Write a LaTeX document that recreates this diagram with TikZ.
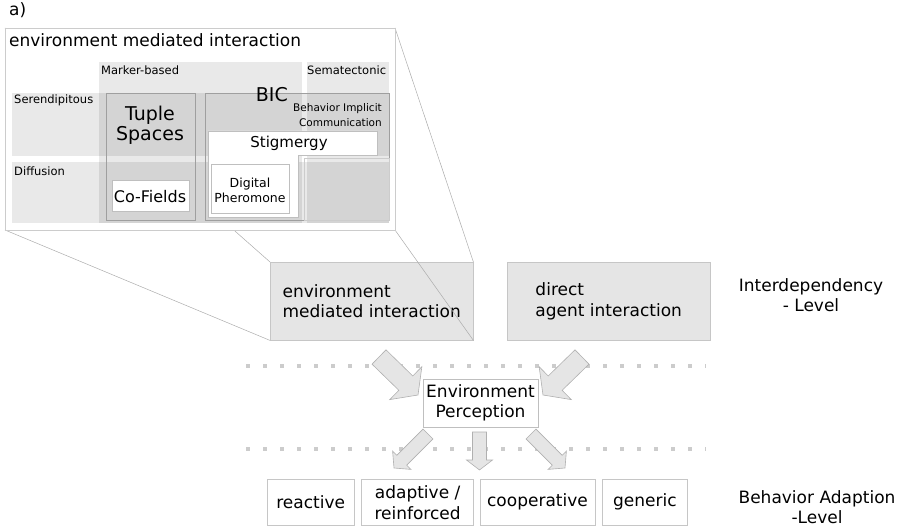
\documentclass[tikz,border=0pt]{standalone}
\usepackage{fontspec}
\setmainfont{DejaVu Sans}
\usetikzlibrary{positioning,calc}

\tikzset{
    region/.style={fill=black, fill opacity=0.085},
    inbox/.style={draw=gray!75, line width=0.8pt},
    whitebox/.style={draw=gray!50, fill=white, line width=0.8pt},
    levelbox/.style={draw=gray!45, fill=gray!20, minimum width=203pt, minimum height=78pt,
        align=left, font=\fontsize{17}{20.5}\selectfont},
    resultbox/.style={draw=gray!45, fill=white, minimum height=46pt, inner sep=3pt,
        align=center, font=\fontsize{17}{21}\selectfont},
    zoomline/.style={draw=gray!65, line width=0.5pt},
    dotline/.style={draw=gray!40, line width=3.5pt, dash pattern=on 3.5pt off 13.5pt},
    blockarrow/.style={draw=gray!62, fill=gray!20, line width=0.6pt},
    lbl/.style={inner sep=0pt},
    smalltext/.style={font=\fontsize{11.5}{14}\selectfont},
    bigtext/.style={font=\fontsize{17}{20.5}\selectfont},
}

% 粗箭头: 起点, 终点, 杆半宽, 头半宽, 头长
\newcommand{\fatarrow}[5]{
    \coordinate (hb) at ($(#2)!#5!(#1)$);
    \draw[blockarrow] ($(#1)!#3!90:(#2)$) -- ($(hb)!#3!90:(#2)$) -- ($(hb)!#4!90:(#2)$)
        -- (#2) -- ($(hb)!#4!-90:(#2)$) -- ($(hb)!#3!-90:(#2)$) -- ($(#1)!#3!-90:(#2)$) -- cycle;
}

\begin{document}
\begin{tikzpicture}[x=1pt, y=-1pt]
        \useasboundingbox (0,0) rectangle (905,529);

        % interdependency level
        \node[levelbox, anchor=north west] (env) at (270,262) {environment\\mediated interaction};
        \node[levelbox, anchor=north west] (direct) at (507,262) {direct\\agent interaction};
        \node[bigtext, align=center] (lvlone) at (811,295) {Interdependency\\- Level};

        % zoom of the left box
        \coordinate (dnw) at (5,28);
        \coordinate (dne) at (395,28);
        \coordinate (dsw) at (5,230);
        \coordinate (dse) at (395,230);
        \draw[zoomline] (dnw) -- (env.north west);
        \draw[zoomline] (dne) -- (env.north east);
        \draw[zoomline] (dsw) -- (env.south west);
        \draw[zoomline] (dse) -- (env.south east);
        \filldraw[draw=gray!40, fill=white, line width=0.8pt] (dnw) rectangle (dse);

        \node[bigtext, lbl, anchor=base west] (part) at (9,16) {a)};
        \node[bigtext, lbl, anchor=base west] (title) at (9,46.5) {environment mediated interaction};

        \fill[region] (99,62) rectangle (302,223);
        \fill[region] (307,62) rectangle (389,223);
        \fill[region] (12,93) rectangle (389,156);
        \fill[region] (12,162) rectangle (389,223);
        \node[smalltext, lbl, anchor=base west] (marker) at (101,75) {Marker-based};
        \node[smalltext, lbl, anchor=base west] (semat) at (307,75) {Sematectonic};
        \node[smalltext, lbl, anchor=base west] (seren) at (14,104) {Serendipitous};
        \node[smalltext, lbl, anchor=base west] (diffus) at (14,176) {Diffusion};

        \draw[inbox] (106,93) rectangle (195,220);
        \draw[inbox] (205,93) rectangle (389,220);
        \draw[inbox, draw=gray!40] (304,158) rectangle (389,220);
        \filldraw[whitebox] (112,180) rectangle (189,211);
        \filldraw[whitebox] (208,131) -- (377,131) -- (377,155) -- (298,155) -- (298,217) -- (208,217) -- cycle;
        \filldraw[whitebox] (211,164) rectangle (289,213);

        \node[lbl, anchor=base, align=center, font=\fontsize{19}{20}\selectfont] (tuple) at (150,141) {Tuple\\Spaces};
        \node[lbl, anchor=base, font=\fontsize{16}{18}\selectfont] (cofields) at (150,203) {Co-Fields};
        \node[lbl, anchor=base east, font=\fontsize{19}{20}\selectfont] (bic) at (288,102) {BIC};
        \node[lbl, anchor=base east, align=right, font=\fontsize{10.5}{15}\selectfont] (bicname) at (382,127) {Behavior Implicit\\Communication};
        \node[lbl, anchor=base, font=\fontsize{15}{18}\selectfont] (stig) at (289,148) {Stigmergy};
        \node[lbl, anchor=base, align=center, font=\fontsize{12.5}{15}\selectfont] (pher) at (250,203) {Digital\\Pheromone};

        % dotted separators
        \coordinate (sepa) at (246,366);
        \coordinate (sepb) at (706,366);
        \coordinate (sepc) at (246,449);
        \coordinate (sepd) at (706,449);
        \draw[dotline] (sepa) -- (sepb);
        \draw[dotline] (sepc) -- (sepd);

        \node[draw=gray!50, fill=white, bigtext, align=center, minimum width=115pt, minimum height=48pt,
            inner sep=2pt] (percep) at (480.5,403) {Environment\\Perception};

        % behavior adaption level
        \node[resultbox, minimum width=87pt, anchor=north west] (reactive) at (267,479) {reactive};
        \node[resultbox, minimum width=112pt, right=7pt of reactive] (adaptive) {adaptive /\\reinforced};
        \node[resultbox, minimum width=115pt, right=6pt of adaptive] (coop) {cooperative};
        \node[resultbox, minimum width=85pt, right=7pt of coop] (generic) {generic};
        \node[bigtext, align=center] (lvltwo) at (817,507) {Behavior Adaption\\-Level};

        % block arrows
        \coordinate (ina) at (379,357);
        \coordinate (inb) at (418,395);
        \coordinate (inc) at (582,357);
        \coordinate (ind) at (543,395);
        \fatarrow{ina}{inb}{10pt}{23pt}{17pt}
        \fatarrow{inc}{ind}{10pt}{23pt}{17pt}
        \coordinate (outa) at (428,434);
        \coordinate (outb) at (394,468);
        \coordinate (outc) at (479.5,432);
        \coordinate (outd) at (479.5,470);
        \coordinate (oute) at (531,434);
        \coordinate (outf) at (565,468);
        \fatarrow{outa}{outb}{7pt}{13pt}{11pt}
        \fatarrow{outc}{outd}{7pt}{13pt}{10pt}
        \fatarrow{oute}{outf}{7pt}{13pt}{11pt}
    \end{tikzpicture}
\end{document}
